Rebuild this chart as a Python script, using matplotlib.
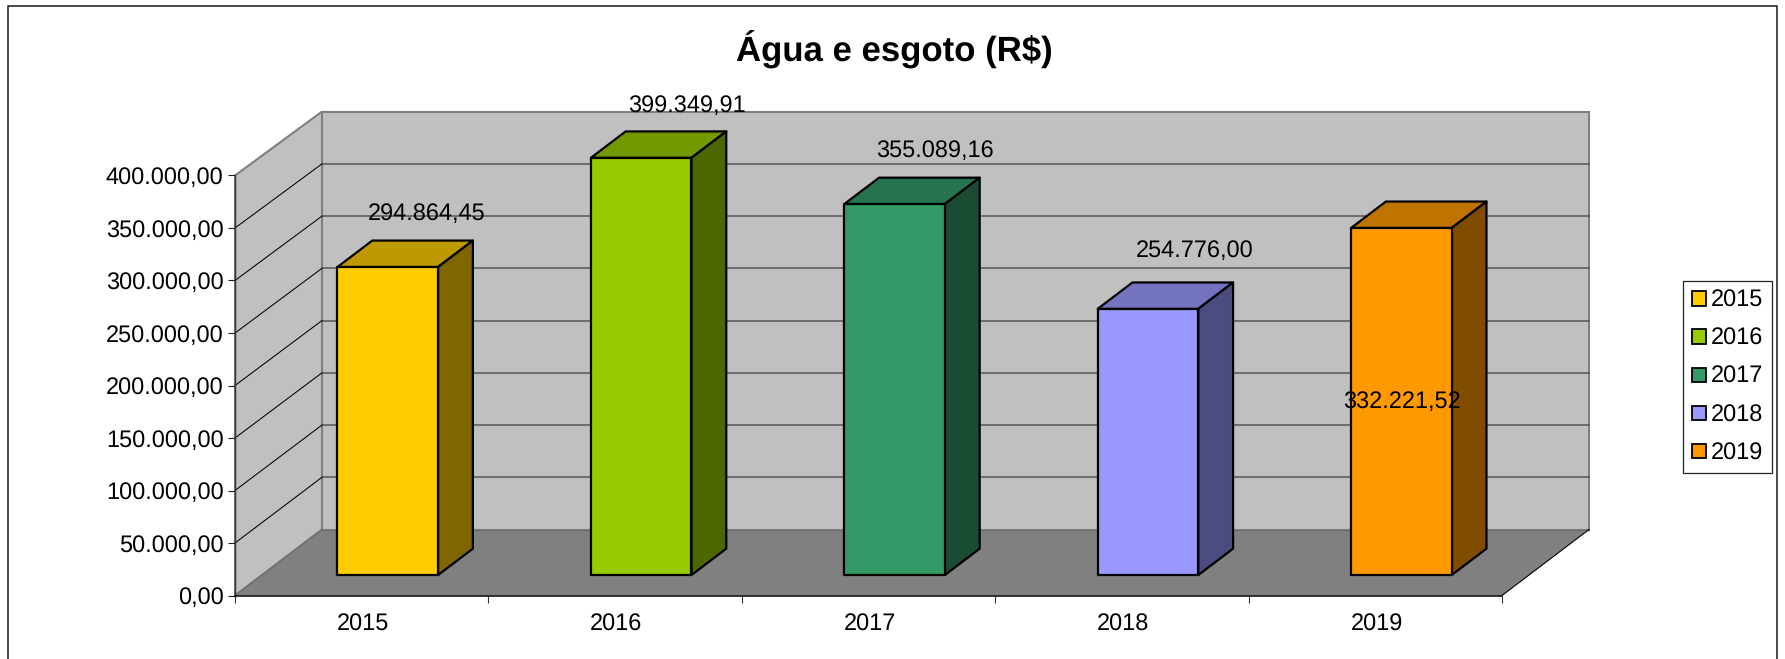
import matplotlib
matplotlib.use("Agg")
import matplotlib.pyplot as plt
from matplotlib.lines import Line2D
from matplotlib.patches import Patch

plt.rcParams['font.family'] = ['Liberation Sans', 'DejaVu Sans']
plt.rcParams['text.hinting'] = 'no_hinting'

# ---- data ----
categories = ['2015', '2016', '2017', '2018', '2019']
values = [294864.45, 399349.91, 355089.16, 254776.00, 332221.52]
value_labels = ['294.864,45', '399.349,91', '355.089,16', '254.776,00', '332.221,52']
y_ticks = [0, 50000, 100000, 150000, 200000, 250000, 300000, 350000, 400000]
y_tick_labels = ['0,00', '50.000,00', '100.000,00', '150.000,00', '200.000,00',
                 '250.000,00', '300.000,00', '350.000,00', '400.000,00']

front_colors = ['#FFCC00', '#99CC00', '#339966', '#9999FF', '#FF9900']
top_colors = ['#BF9900', '#729900', '#267350', '#7373BF', '#BF7300']
side_colors = ['#7F6600', '#4C6600', '#1A4C33', '#4C4C80', '#804C00']
# label offset from the top-centre of each bar's front face (pixels)
label_dx = [38, 45, 39, 46, 0]
label_dy = [47, 46, 47, 52, -180]

W, H, DPI = 1785, 659, 100
FONT = 16.95

fig = plt.figure(figsize=(W / DPI, H / DPI), dpi=DPI, facecolor='white')
# front plane of the 3-D box, in pixels: x 235..1502, y 175.5..595.5
ax = fig.add_axes([235 / W, 1 - 595.5 / H, (1502 - 235) / W, 420 / H])
ax.set_xlim(0, len(categories))
ax.set_ylim(0, y_ticks[-1])
ax.patch.set_visible(False)

DEPTH_X = 87 / (1267 / 5)         # categories per unit of depth
DEPTH_Y = 66 / 420 * y_ticks[-1]  # value units per unit of depth
BAR_NEAR, BAR_FAR = 0.31, 0.71
BAR_L, BAR_R = 0.298, 0.695


def proj(cat, val, depth):
    """Oblique projection of (category, value, depth) onto the axes data space."""
    factor = 1.0 if depth == 0 else 0.995
    return cat + depth * DEPTH_X, val * factor + depth * DEPTH_Y


def poly(pts, **kw):
    xs, ys = zip(*[proj(*p) for p in pts])
    return ax.fill(xs, ys, clip_on=False, **kw)


def seg(a, b, **kw):
    xs, ys = zip(proj(*a), proj(*b))
    ax.add_line(Line2D(xs, ys, clip_on=False, **kw))


n = len(categories)
top = y_ticks[-1]
WALL, FLOOR, EDGE = '#C0C0C0', '#808080', '#808080'
# walls and floor
poly([(0, 0, 1), (n, 0, 1), (n, top, 1), (0, top, 1)], facecolor=WALL,
     edgecolor=EDGE, linewidth=1.5, joinstyle='miter', zorder=1)
poly([(0, 0, 0), (0, 0, 1), (0, top, 1), (0, top, 0)], facecolor=WALL,
     edgecolor=EDGE, linewidth=1.5, joinstyle='miter', zorder=1)
poly([(0, 0, 0), (n, 0, 0), (n, 0, 1), (0, 0, 1)], facecolor=FLOOR,
     edgecolor='none', zorder=2)
seg((0, 0, 1), (n, 0, 1), color='#6E6E6E', linewidth=1.0, zorder=2.1)
seg((0, 0, 0), (0, 0, 1), color='#6E6E6E', linewidth=1.0, zorder=2.1)
seg((n, 0, 0), (n, 0, 1), color='black', linewidth=0.8, zorder=2.1)

# gridlines
for t in y_ticks[1:-1]:
    seg((0, t, 1), (n, t, 1), color='#555555', linewidth=1.1, zorder=1.5)
    seg((0, t, 0), (0, t, 1), color='black', linewidth=0.75, zorder=1.5)

# bars
for i, v in enumerate(values):
    xl, xr = i + BAR_L, i + BAR_R
    style = dict(edgecolor='black', linewidth=1.6, joinstyle='round', zorder=3)
    poly([(xl, v, BAR_NEAR), (xr, v, BAR_NEAR), (xr, v, BAR_FAR), (xl, v, BAR_FAR)],
         facecolor=top_colors[i], **style)
    poly([(xr, 0, BAR_NEAR), (xr, 0, BAR_FAR), (xr, v, BAR_FAR), (xr, v, BAR_NEAR)],
         facecolor=side_colors[i], **style)
    poly([(xl, 0, BAR_NEAR), (xr, 0, BAR_NEAR), (xr, v, BAR_NEAR), (xl, v, BAR_NEAR)],
         facecolor=front_colors[i], **style)
    ax.annotate(value_labels[i], xy=proj(i + 0.5, v, BAR_NEAR),
                xytext=(label_dx[i], label_dy[i]), textcoords='offset pixels',
                ha='center', va='baseline', fontsize=FONT, color='black',
                annotation_clip=False, zorder=5)

# axes
for s in ('top', 'right'):
    ax.spines[s].set_visible(False)
ax.spines['left'].set_color('#333333')
ax.spines['bottom'].set_color('black')
ax.spines['left'].set_linewidth(1.0)
ax.spines['bottom'].set_linewidth(1.1)
ax.spines['left'].set_zorder(4)
ax.spines['bottom'].set_zorder(4)

ax.set_yticks(y_ticks)
ax.set_yticklabels(y_tick_labels, fontsize=FONT)
ax.tick_params(axis='y', length=5.4, width=0.8, pad=2.8, color='#222222')
ax.set_xticks(range(n + 1))
ax.set_xticklabels([])
ax.tick_params(axis='x', which='major', length=5.2, width=0.8, color='#333333')
ax.set_xticks([i + 0.505 for i in range(n)], minor=True)
ax.set_xticklabels(categories, minor=True, fontsize=FONT)
ax.tick_params(axis='x', which='minor', length=0, pad=13)

# title
fig.text(894 / W, 1 - 61 / H, 'Água e esgoto (R$)', ha='center', va='baseline',
         fontsize=25, fontweight='bold', color='black')

# legend
handles = [Patch(facecolor=c, edgecolor='black', linewidth=1.3) for c in front_colors]
leg = ax.legend(handles, categories, fontsize=FONT, loc='upper right',
                bbox_to_anchor=(1772 / W, 1 - 281 / H),
                bbox_transform=fig.transFigure, frameon=True, fancybox=False,
                framealpha=1, edgecolor='#222222', borderpad=0.36, borderaxespad=0,
                handlelength=0.58, handleheight=0.58, handletextpad=0.24,
                labelspacing=0.67)
leg.get_frame().set_linewidth(0.9)

# chart frame (its bottom edge falls outside the picture)
fy = lambda p: 1 - p / H
fx = lambda p: p / W
frame = dict(color='#1A1A1A', linewidth=1.1, transform=fig.transFigure)
fig.add_artist(Line2D([fx(8), fx(8), fx(1777), fx(1777)],
                      [fy(H + 5), fy(5.7), fy(5.7), fy(H + 5)], **frame))

fig.savefig('out.png', dpi=DPI, facecolor='white')
